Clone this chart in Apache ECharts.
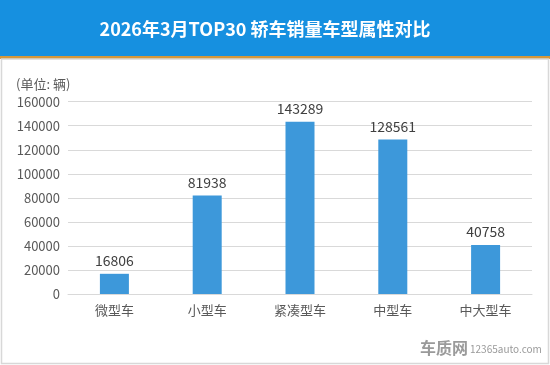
<!DOCTYPE html>
<html><head><meta charset="utf-8">
<script src="https://cdn.jsdelivr.net/npm/echarts@6/dist/echarts.min.js"></script>
<style>html,body{margin:0;padding:0;background:#fff}#c{width:550px;height:365px}</style>
</head><body><div id="c"></div>
<script>
const categories = ['微型车','小型车','紧凑型车','中型车','中大型车'];
const sales = [16806, 81938, 143289, 128561, 40758];
const yTicks = [0,20000,40000,60000,80000,100000,120000,140000,160000];
const title = '2026年3月TOP30 轿车销量车型属性对比';
const unitLabel = '(单位: 辆)';

const chart = echarts.init(document.getElementById('c'));
const font = '"Microsoft YaHei","Noto Sans CJK SC",sans-serif';
chart.setOption({
  animation:false,
  textStyle:{fontFamily:font},
  graphic:[
    {type:'rect',shape:{x:0,y:0,width:550,height:56},style:{fill:'#1690e0'},z:0},
    {type:'rect',shape:{x:0,y:56,width:550,height:3},style:{fill:'#d4983c'},z:0},
    {type:'rect',shape:{x:1.5,y:59,width:547,height:304.5},style:{fill:'none',stroke:'#d8d8d8',lineWidth:1.5},z:0},
    {type:'text',x:265,y:29,style:{text:title,fill:'#fff',font:'bold 18px '+font,textAlign:'center',textVerticalAlign:'middle'},z:5},
    {type:'text',x:16,y:84,style:{text:unitLabel,fill:'#595959',font:'13px '+font,textVerticalAlign:'middle'}},
    {type:'text',x:420,y:348,style:{text:'车质网',fill:'#9a9a9a',font:'bold 16px '+font,textVerticalAlign:'middle'}},
    {type:'text',x:470,y:349,style:{text:'12365auto.com',fill:'#9a9a9a',font:'10px '+font,textVerticalAlign:'middle'}}
  ],
  grid:{left:68,right:18,top:101.7,bottom:71,containLabel:false},
  xAxis:{type:'category',data:categories,
    axisLine:{lineStyle:{color:'#d9d9d9'}},axisTick:{show:false},
    axisLabel:{color:'#595959',fontSize:13,margin:10}},
  yAxis:{type:'value',min:yTicks[0],max:yTicks[yTicks.length-1],interval:20000,
    axisLine:{show:false},axisTick:{show:false},
    splitLine:{lineStyle:{color:'#d9d9d9'}},
    axisLabel:{color:'#595959',fontSize:13,margin:8,formatter:v=>String(v)}},
  series:[{type:'bar',data:sales,barWidth:29,
    itemStyle:{color:'#3d98da'},
    label:{show:true,position:'top',color:'#404040',fontSize:14,distance:6}}]
});
</script></body></html>
